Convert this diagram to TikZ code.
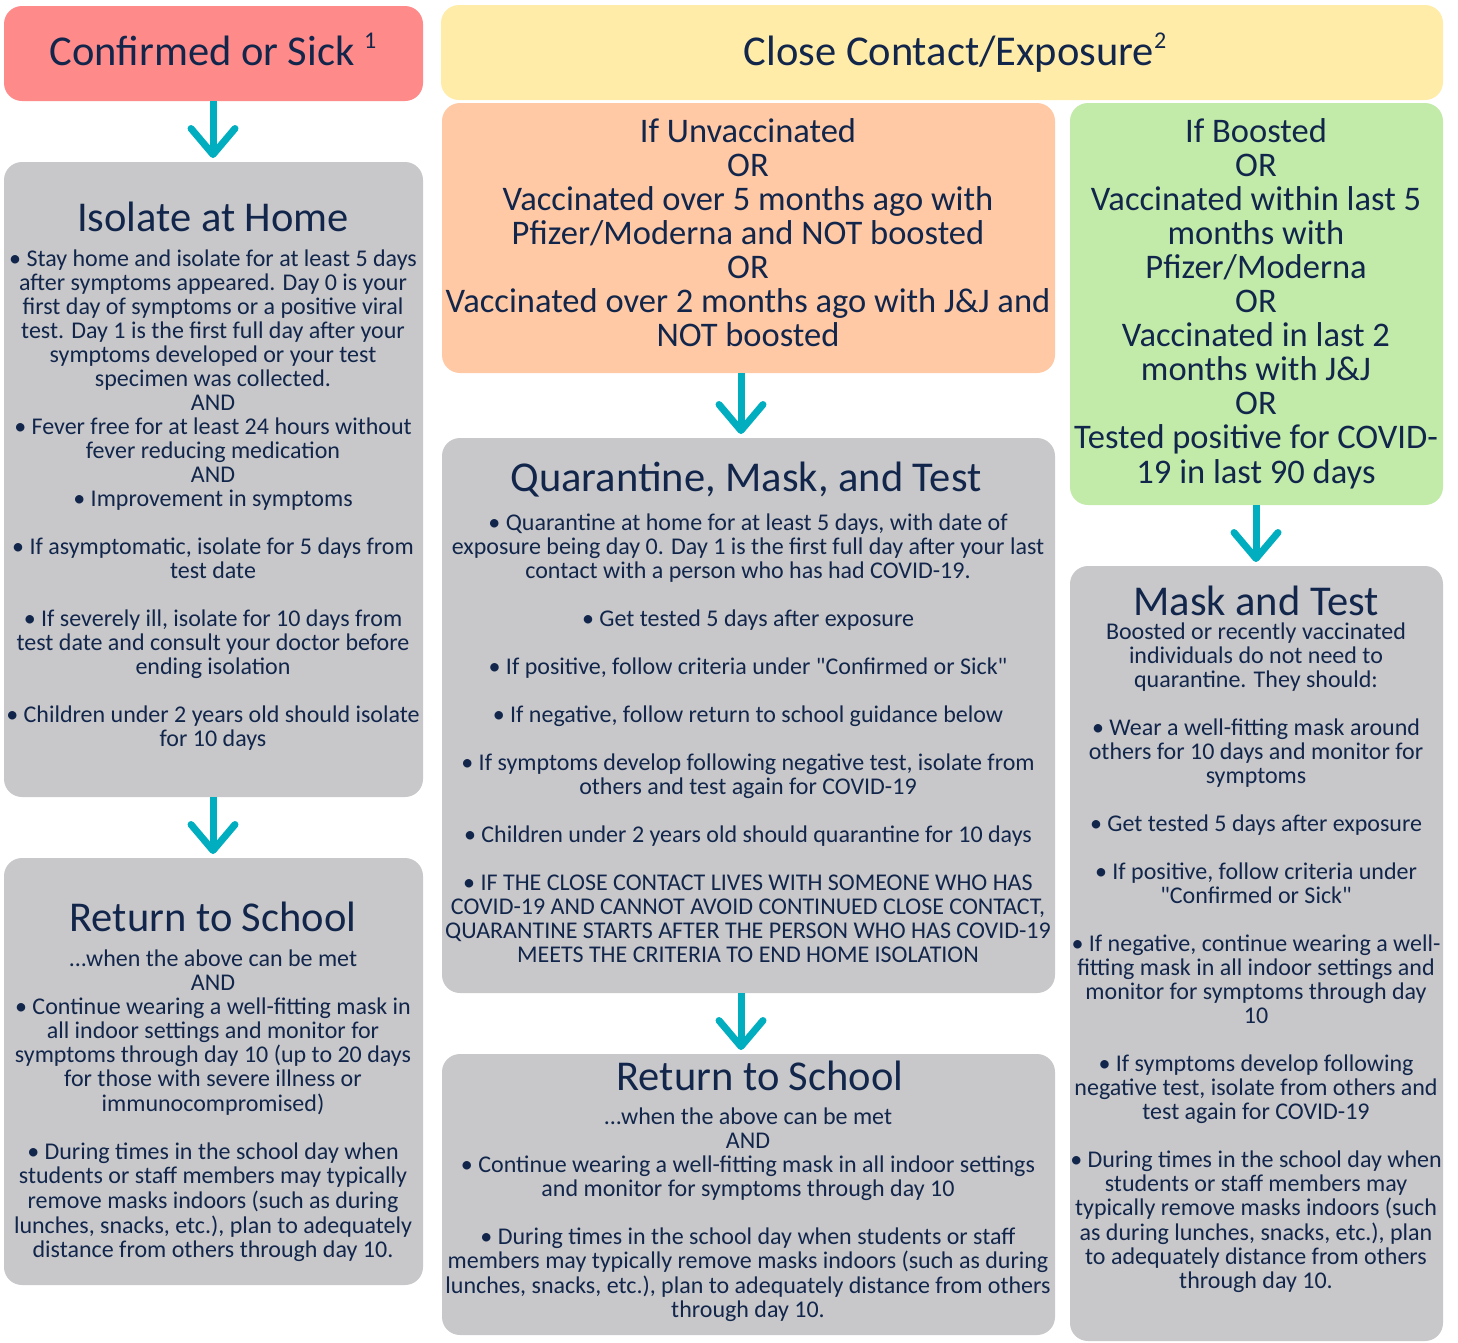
\documentclass[tikz,border=0pt]{standalone}
\usepackage{fontspec}
\setmainfont{Carlito}
\usetikzlibrary{arrows.meta}
\definecolor{redh}{HTML}{FF8A8A}
\definecolor{yelh}{HTML}{FFECA8}
\definecolor{peach}{HTML}{FFC9A5}
\definecolor{greenh}{HTML}{C2EBA9}
\definecolor{grayb}{HTML}{C8C8CA}
\definecolor{teal}{HTML}{00AEBF}
\definecolor{ink}{HTML}{12264B}
\newcommand{\blk}[1]{\begin{tabular}[t]{@{}c@{}}#1\end{tabular}}
\newcommand{\sups}[1]{\raisebox{17pt}{\fontsize{24}{24}\selectfont #1}}
\newcommand{\dq}{\textquotedbl}
\begin{document}
\begin{tikzpicture}[x=1pt,y=-1pt,
  panel/.style={rounded corners=18pt, inner sep=0, outer sep=0, anchor=north west, draw=none},
  ttl/.style={anchor=base, text=ink, inner sep=0, font=\fontsize{42.5}{50}\selectfont},
  hdr/.style={anchor=base, text=ink, inner sep=0, font=\fontsize{34.5}{34}\selectfont},
  body/.style={anchor=base, text=ink, inner sep=0, font=\fontsize{24}{24}\selectfont},
  arr/.style={draw=teal, line width=7pt, -{Straight Barb[length=26pt, width=44pt, round]}, shorten >=4pt}]
\useasboundingbox (0,0) rectangle (1458,1342);
% panels
\node[panel, fill=redh, minimum width=419pt, minimum height=95pt] (conf) at (4,6) {};
\node[panel, fill=yelh, minimum width=1002pt, minimum height=95pt] (close) at (441,5) {};
\node[panel, fill=peach, minimum width=613pt, minimum height=270pt] (unv) at (442,103) {};
\node[panel, fill=greenh, minimum width=373pt, minimum height=402pt] (boost) at (1070,103) {};
\node[panel, fill=grayb, minimum width=419pt, minimum height=635pt] (iso) at (4,162) {};
\node[panel, fill=grayb, minimum width=419pt, minimum height=427pt] (retl) at (4,858) {};
\node[panel, fill=grayb, minimum width=613pt, minimum height=555pt] (quar) at (442,438) {};
\node[panel, fill=grayb, minimum width=613pt, minimum height=281pt] (retm) at (442,1054) {};
\node[panel, fill=grayb, minimum width=373pt, minimum height=775pt] (mask) at (1070,566) {};
% headers
\node[ttl] (tconf) at (213,65) {Confirmed or Sick \sups{1}};
\node[ttl] (tclose) at (955,65) {Close Contact/Exposure\sups{2}};
\node[hdr] (tunv) at (748,142) {\blk{If Unvaccinated\\ OR\\ Vaccinated over 5 months ago with\\ Pfizer/Moderna and NOT boosted\\ OR\\ Vaccinated over 2 months ago with J\&J and\\ NOT boosted}};
\node[hdr] (tboost) at (1256,142) {\blk{If Boosted\\ OR\\ Vaccinated within last 5\\ months with\\ Pfizer/Moderna\\ OR\\ Vaccinated in last 2\\ months with J\&J\\ OR\\ Tested positive for COVID-\\ 19 in last 90 days}};
% Isolate at home
\node[ttl] (tiso) at (213,231) {Isolate at Home};
\node[body] (biso) at (213,266) {\blk{• Stay home and isolate for at least 5 days\\ after symptoms appeared. Day 0 is your\\ first day of symptoms or a positive viral\\ test. Day 1 is the first full day after your\\ symptoms developed or your test\\ specimen was collected.\\ AND\\ • Fever free for at least 24 hours without\\ fever reducing medication\\ AND\\ • Improvement in symptoms\\ \\ • If asymptomatic, isolate for 5 days from\\ test date\\ \\ • If severely ill, isolate for 10 days from\\ test date and consult your doctor before\\ ending isolation\\ \\ • Children under 2 years old should isolate\\ for 10 days}};
% Return left
\node[ttl] (tretl) at (213,931) {Return to School};
\node[body] (bretl) at (213,966) {\blk{...when the above can be met\\ AND\\ • Continue wearing a well-fitting mask in\\ all indoor settings and monitor for\\ symptoms through day 10 (up to 20 days\\ for those with severe illness or\\ immunocompromised)\\ \\ • During times in the school day when\\ students or staff members may typically\\ remove masks indoors (such as during\\ lunches, snacks, etc.), plan to adequately\\ distance from others through day 10.}};
% Quarantine
\node[ttl] (tquar) at (746,491) {Quarantine, Mask, and Test};
\node[body] (bquar) at (748,530) {\blk{• Quarantine at home for at least 5 days, with date of\\ exposure being day 0. Day 1 is the first full day after your last\\ contact with a person who has had COVID-19.\\ \\ • Get tested 5 days after exposure\\ \\ • If positive, follow criteria under \dq Confirmed or Sick\dq\\ \\ • If negative, follow return to school guidance below\\ \\ • If symptoms develop following negative test, isolate from\\ others and test again for COVID-19\\ \\ • Children under 2 years old should quarantine for 10 days\\ \\ • IF THE CLOSE CONTACT LIVES WITH SOMEONE WHO HAS\\ COVID-19 AND CANNOT AVOID CONTINUED CLOSE CONTACT,\\ QUARANTINE STARTS AFTER THE PERSON WHO HAS COVID-19\\ MEETS THE CRITERIA TO END HOME ISOLATION}};
% Return mid
\node[ttl] (tretm) at (760,1090) {Return to School};
\node[body] (bretm) at (748,1124) {\blk{...when the above can be met\\ AND\\ • Continue wearing a well-fitting mask in all indoor settings\\ and monitor for symptoms through day 10\\ \\ • During times in the school day when students or staff\\ members may typically remove masks indoors (such as during\\ lunches, snacks, etc.), plan to adequately distance from others\\ through day 10.}};
% Mask and test
\node[ttl] (tmask) at (1256,615) {Mask and Test};
\node[body] (bmask) at (1256,639) {\blk{Boosted or recently vaccinated\\ individuals do not need to\\ quarantine. They should:\\ \\ • Wear a well-fitting mask around\\ others for 10 days and monitor for\\ symptoms\\ \\ • Get tested 5 days after exposure\\ \\ • If positive, follow criteria under\\ \dq Confirmed or Sick\dq\\ \\ • If negative, continue wearing a well-\\ fitting mask in all indoor settings and\\ monitor for symptoms through day\\ 10\\ \\ • If symptoms develop following\\ negative test, isolate from others and\\ test again for COVID-19\\ \\ • During times in the school day when\\ students or staff members may\\ typically remove masks indoors (such\\ as during lunches, snacks, etc.), plan\\ to adequately distance from others\\ through day 10.}};
% arrows
\draw[arr] ([xshift=-0.5pt]conf.south) -- ([xshift=-0.5pt]iso.north);
\draw[arr] ([xshift=-0.5pt]iso.south) -- ([xshift=-0.5pt]retl.north);
\draw[arr] ([xshift=-7.5pt]unv.south) -- ([xshift=-7.5pt]quar.north);
\draw[arr] ([xshift=-7.5pt]quar.south) -- ([xshift=-7.5pt]retm.north);
\draw[arr] ([xshift=-0.5pt]boost.south) -- ([xshift=-0.5pt]mask.north);
\end{tikzpicture}
\end{document}
